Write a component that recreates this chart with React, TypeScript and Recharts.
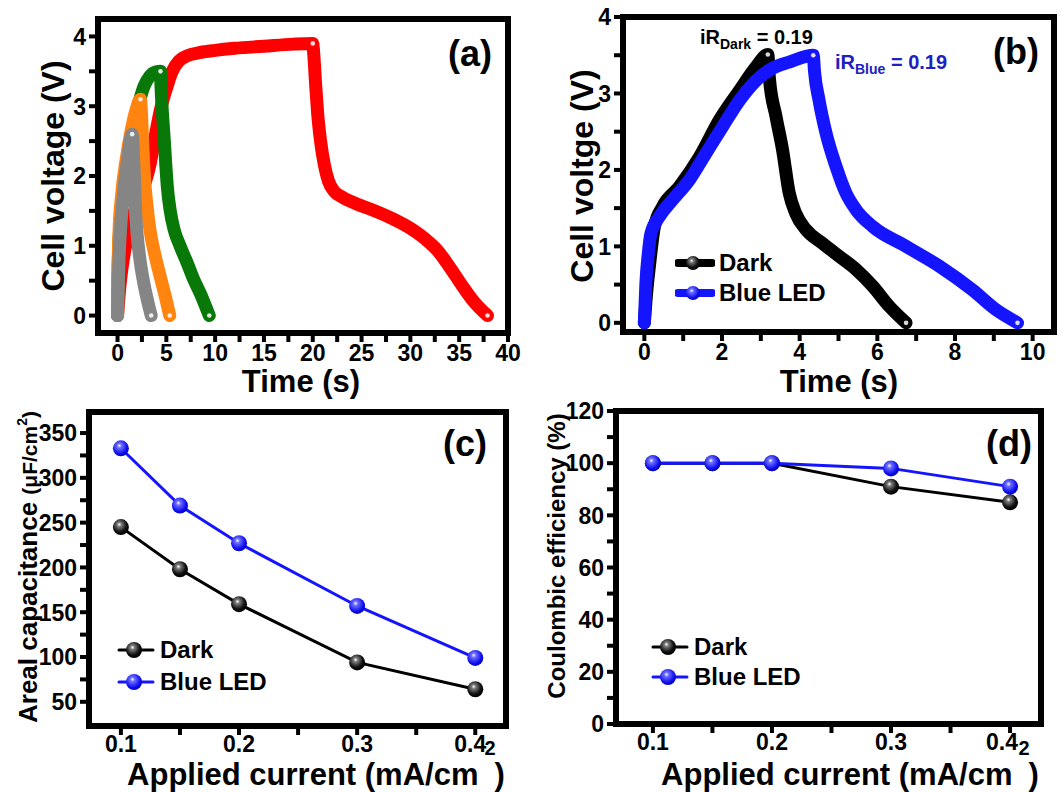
import React from 'react';
import { LineChart, Line, XAxis, YAxis, ReferenceArea, Label, Legend } from 'recharts';

const FONT = '"Liberation Sans", Arial, Helvetica, sans-serif';
const BLUE = '#1414ff';

// (a) GCD curves at several current densities: [time (s), cell voltage (V)]
const redGcd = [
  [0, 0], [0.3, 0.5], [0.7, 0.9], [1.3, 1.3], [2.0, 1.6], [2.7, 1.85], [3.3, 2.15], [3.9, 2.6], [4.4, 2.95],
  [5.0, 3.25], [5.6, 3.5], [6.3, 3.65], [7.1, 3.72], [8.5, 3.77], [10, 3.8], [12, 3.83], [15, 3.86], [18, 3.89],
  [20, 3.9], [20.1, 3.75], [20.3, 3.3], [20.5, 2.9], [20.8, 2.5], [21.2, 2.15], [21.6, 1.93], [22.2, 1.78],
  [23, 1.7], [24.5, 1.6], [26, 1.52], [28, 1.4], [30, 1.25], [31.5, 1.1], [32.8, 0.93], [34, 0.7], [35.2, 0.45],
  [36.5, 0.2], [37.9, 0],
];
const greenGcd = [
  [0, 0], [0.05, 0.6], [0.2, 1.2], [0.5, 1.7], [1.0, 2.25], [1.6, 2.7], [2.2, 3.05], [2.7, 3.28], [3.3, 3.43],
  [3.9, 3.49], [4.4, 3.5], [4.45, 3.3], [4.6, 2.9], [4.75, 2.6], [4.95, 2.15], [5.1, 1.85], [5.4, 1.5],
  [5.8, 1.23], [6.4, 1.0], [7.15, 0.75], [7.8, 0.52], [8.5, 0.31], [9.0, 0.14], [9.4, 0],
];
const orangeGcd = [
  [0, 0], [0.05, 0.6], [0.15, 1.2], [0.4, 1.7], [0.9, 2.25], [1.4, 2.65], [1.9, 2.95], [2.35, 3.1], [2.45, 2.9],
  [2.6, 2.4], [2.8, 1.9], [3.0, 1.6], [3.35, 1.2], [3.75, 0.92], [4.3, 0.6], [4.85, 0.3], [5.35, 0],
];
const grayGcd = [
  [0, 0], [0.1, 0.6], [0.25, 1.1], [0.55, 1.65], [1.0, 2.2], [1.5, 2.6], [1.6, 2.4], [1.75, 1.9], [1.85, 1.5],
  [2.0, 1.18], [2.3, 0.8], [2.7, 0.46], [3.1, 0.2], [3.45, 0],
];

// (b) dark vs blue LED
const darkGcd = [
  [0, 0], [0.06, 0.4], [0.13, 0.74], [0.26, 1.26], [0.47, 1.52], [0.9, 1.78], [1.42, 2.17], [1.93, 2.65],
  [2.45, 3.04], [2.88, 3.35], [3.18, 3.51], [3.22, 3.2], [3.39, 2.7], [3.56, 2.26], [3.73, 1.7], [3.9, 1.43],
  [4.16, 1.22], [4.59, 1.04], [5.02, 0.87], [5.45, 0.7], [5.88, 0.48], [6.3, 0.22], [6.74, 0],
];
const blueGcd = [
  [0, 0], [0.04, 0.52], [0.1, 0.9], [0.17, 1.17], [0.39, 1.39], [0.73, 1.61], [1.16, 1.87], [1.59, 2.22],
  [2.02, 2.57], [2.45, 2.91], [2.88, 3.17], [3.3, 3.33], [3.73, 3.41], [4.35, 3.5], [4.38, 3.3], [4.5, 2.91],
  [4.68, 2.48], [4.94, 2.04], [5.19, 1.7], [5.45, 1.48], [5.88, 1.26], [6.74, 1.0], [7.6, 0.74], [8.45, 0.43],
  [9.06, 0.17], [9.61, 0],
];

// (c), (d)
const currents = [0.1, 0.15, 0.2, 0.3, 0.4];
const capDark = [245, 198, 159, 94, 64];
const capBlue = [333, 269, 227, 157, 99];
const ceDark = [100, 100, 100, 91, 85];
const ceBlue = [100, 100, 100, 98, 91];
const seriesNames = ['Dark', 'Blue LED'];

// ticks
const aXTicks = [0, 2.5, 5, 7.5, 10, 12.5, 15, 17.5, 20, 22.5, 25, 27.5, 30, 32.5, 35, 37.5, 40];
const aXMajor = [0, 5, 10, 15, 20, 25, 30, 35, 40];
const vTicks = [0, 0.5, 1, 1.5, 2, 2.5, 3, 3.5, 4];
const vMajor = [0, 1, 2, 3, 4];
const bXTicks = [0, 1, 2, 3, 4, 5, 6, 7, 8, 9, 10];
const bXMajor = [0, 2, 4, 6, 8, 10];
const iTicks = [0.1, 0.15, 0.2, 0.25, 0.3, 0.35, 0.4];
const iMajor = [0.1, 0.2, 0.3, 0.4];
const cYTicks = [50, 75, 100, 125, 150, 175, 200, 225, 250, 275, 300, 325, 350];
const cYMajor = [50, 100, 150, 200, 250, 300, 350];
const dYTicks = [0, 10, 20, 30, 40, 50, 60, 70, 80, 90, 100, 110, 120];
const dYMajor = [0, 20, 40, 60, 80, 100, 120];

const pts = (a: number[][]) => a.map(([x, y]) => ({ x, y }));
const zip = (xs: number[], ys: number[]) => xs.map((x, i) => ({ x, y: ys[i] }));
const isMajor = (list: number[], v: number) => list.some((m) => Math.abs(m - v) < 1e-9);

// lastShift nudges the last label left, as in the original where it makes room for the superscript
const xTick = (major: number[], fmt: (v: number) => string, lastShift: number) => (p: any) => {
  const v = p.payload.value;
  if (!isMajor(major, v)) return <g />;
  const dx = Math.abs(v - major[major.length - 1]) < 1e-9 ? -lastShift : 0;
  return (
    <text x={p.x + dx} y={p.y} dy="0.71em" textAnchor="middle" fontFamily={FONT} fontWeight="bold" fontSize={23} fill="#000">
      {fmt(v)}
    </text>
  );
};
const yTick = (major: number[]) => (p: any) => {
  const v = p.payload.value;
  if (!isMajor(major, v)) return <g />;
  return (
    <text x={p.x} y={p.y} dy="0.36em" textAnchor="end" fontFamily={FONT} fontWeight="bold" fontSize={23} fill="#000">
      {String(v)}
    </text>
  );
};

// white highlight on the last point and on the top of charge
const endDots = (data: number[][]) => {
  let peak = 0;
  data.forEach((d, i) => { if (d[1] > data[peak][1]) peak = i; });
  return (p: any) => {
    if (p.index !== peak && p.index !== data.length - 1) return <g key={`n${p.index}`} />;
    return <circle key={`e${p.index}`} cx={p.cx} cy={p.cy} r={2.3} fill="#fff" opacity={0.85} />;
  };
};
const sphere = (fill: string) => (p: any) => (
  <circle key={`s${p.index}`} cx={p.cx} cy={p.cy} r={8} fill={fill} />
);

type Box = { l: number; r: number; t: number; b: number };
type LegendPos = { x: number; y: number; rowH: number; thick: boolean };

const PL = 110, PT = 20, PR = 20, PB = 80;

interface PanelProps {
  box: Box;
  xDomain: [number, number];
  yDomain: [number, number];
  xTicks: number[];
  xMajor: number[];
  yTicks: number[];
  yMajor: number[];
  xFmt: (v: number) => string;
  xMargin?: number;
  lastShift?: number;
  overlay: React.ReactNode;
  legend?: LegendPos;
  children: React.ReactNode;
}

const Panel = ({
  box, xDomain, yDomain, xTicks, xMajor, yTicks, yMajor, xFmt, xMargin = 3, lastShift = 0, overlay, legend, children,
}: PanelProps) => {
  const ox = box.l - PL;
  const oy = box.t - PT;
  const w = box.r - box.l + PL + PR;
  const h = box.b - box.t + PT + PB;
  return (
    <div style={{ position: 'absolute', left: ox, top: oy, width: w, height: h }}>
      <LineChart width={w} height={h} margin={{ top: PT, right: PR, bottom: 0, left: 0 }}>
        <XAxis
          type="number" dataKey="x" domain={xDomain} ticks={xTicks} interval={0} allowDataOverflow
          height={PB} axisLine={false} tickSize={9} tickMargin={xMargin}
          tickLine={{ stroke: '#000', strokeWidth: 4 }} tick={xTick(xMajor, xFmt, lastShift)}
        >
          <Label content={() => <g transform={`translate(${-ox},${-oy})`} fontFamily={FONT} fontWeight="bold" fill="#000">{overlay}</g>} />
        </XAxis>
        <YAxis
          type="number" domain={yDomain} ticks={yTicks} interval={0} allowDataOverflow
          width={PL} axisLine={false} tickSize={9} tickMargin={3}
          tickLine={{ stroke: '#000', strokeWidth: 4 }} tick={yTick(yMajor)}
        />
        <ReferenceArea
          x1={xDomain[0]} x2={xDomain[1]} y1={yDomain[0]} y2={yDomain[1]}
          fill="none" stroke="#000" strokeWidth={6} ifOverflow="visible"
        />
        {children}
        {legend && (
          <Legend
            layout="vertical" align="center" verticalAlign="middle"
            wrapperStyle={{ left: legend.x - ox, top: legend.y - oy, width: 180, height: legend.rowH * 2 }}
            content={(props: any) => {
              const items = [...(props.payload || [])].sort(
                (a: any, b: any) => seriesNames.indexOf(a.value) - seriesNames.indexOf(b.value),
              );
              return (
                <div style={{ fontFamily: FONT, fontWeight: 'bold', fontSize: 24, color: '#000' }}>
                  {items.map((e: any) => (
                    <div key={e.value} style={{ display: 'flex', alignItems: 'center', height: legend.rowH }}>
                      <svg width={40} height={legend.rowH} style={{ display: 'block' }}>
                        <line x1={3} x2={37} y1={legend.rowH / 2} y2={legend.rowH / 2} stroke={e.color}
                          strokeWidth={legend.thick ? 8 : 3} strokeLinecap="round" />
                        <circle cx={18} cy={legend.rowH / 2} r={legend.thick ? 7 : 8}
                          fill={e.color === BLUE ? 'url(#sphBlue)' : 'url(#sphBlack)'} />
                      </svg>
                      <span style={{ marginLeft: 4, lineHeight: 1 }}>{e.value}</span>
                    </div>
                  ))}
                </div>
              );
            }}
          />
        )}
      </LineChart>
    </div>
  );
};

const gcdLine = (data: number[][], color: string, name: string) => (
  <Line
    key={name} name={name} data={pts(data)} dataKey="y" type="monotone" stroke={color} strokeWidth={13}
    strokeLinecap="round" strokeLinejoin="round" dot={endDots(data)} activeDot={false} isAnimationActive={false}
  />
);
const ptLine = (ys: number[], color: string, grad: string, name: string) => (
  <Line
    key={name} name={name} data={zip(currents, ys)} dataKey="y" type="linear" stroke={color} strokeWidth={3}
    dot={sphere(grad)} activeDot={false} isAnimationActive={false}
  />
);

const currentTitle = (x: number) => (
  <text x={x} y={785} textAnchor="middle" fontSize={31}>
    Applied current (mA/cm<tspan fontSize={20} dx={6} dy={-30}>2</tspan><tspan dx={-1} dy={30}>)</tspan>
  </text>
);

const App = () => (
  <div style={{ position: 'relative', width: 1062, height: 792, background: '#fff', overflow: 'hidden' }}>
    <style>{'body{margin:0;background:#fff}'}</style>
    <svg width={0} height={0} style={{ position: 'absolute' }}>
      <defs>
        <radialGradient id="sphBlack" cx="0.42" cy="0.38" r="0.62" fx="0.4" fy="0.33">
          <stop offset="0" stopColor="#ffffff" />
          <stop offset="0.22" stopColor="#7a7a7a" />
          <stop offset="0.7" stopColor="#111111" />
          <stop offset="1" stopColor="#000000" />
        </radialGradient>
        <radialGradient id="sphBlue" cx="0.42" cy="0.38" r="0.62" fx="0.4" fy="0.33">
          <stop offset="0" stopColor="#ffffff" />
          <stop offset="0.22" stopColor="#7070ff" />
          <stop offset="0.75" stopColor="#1010f0" />
          <stop offset="1" stopColor="#0000c0" />
        </radialGradient>
      </defs>
    </svg>

    <Panel
      box={{ l: 98, r: 508, t: 19, b: 333 }} xDomain={[-2, 40]} yDomain={[-0.25, 4.25]}
      xTicks={aXTicks} xMajor={aXMajor} yTicks={vTicks} yMajor={vMajor} xFmt={(v) => String(v)}
      overlay={
        <>
          <text x={470} y={66} textAnchor="middle" fontSize={36}>(a)</text>
          <text transform="translate(64,176) rotate(-90)" textAnchor="middle" fontSize={32}>Cell voltage (V)</text>
          <text x={301} y={392} textAnchor="middle" fontSize={31}>Time (s)</text>
        </>
      }
    >
      {gcdLine(redGcd, '#ff0000', '0.1')}
      {gcdLine(greenGcd, '#087808', '0.2')}
      {gcdLine(orangeGcd, '#ff8410', '0.3')}
      {gcdLine(grayGcd, '#858585', '0.4')}
    </Panel>

    <Panel
      box={{ l: 623, r: 1054, t: 17, b: 332 }} xDomain={[-0.55, 10.55]} yDomain={[-0.12, 4]}
      xTicks={bXTicks} xMajor={bXMajor} yTicks={vTicks} yMajor={vMajor} xFmt={(v) => String(v)}
      legend={{ x: 675, y: 248, rowH: 30, thick: true }}
      overlay={
        <>
          <text x={1016} y={64} textAnchor="middle" fontSize={36}>(b)</text>
          <text transform="translate(593,176) rotate(-90)" textAnchor="middle" fontSize={32}>Cell voltge (V)</text>
          <text x={839} y={392} textAnchor="middle" fontSize={31}>Time (s)</text>
          <text x={700} y={44} fontSize={20}>
            iR<tspan fontSize={14} dy={5}>Dark</tspan><tspan dy={-5}> = 0.19</tspan>
          </text>
          <text x={835} y={69} fontSize={20} fill="#2020c0">
            iR<tspan fontSize={14} dy={5}>Blue</tspan><tspan dy={-5}> = 0.19</tspan>
          </text>
        </>
      }
    >
      {gcdLine(darkGcd, '#000000', 'Dark')}
      {gcdLine(blueGcd, BLUE, 'Blue LED')}
    </Panel>

    <Panel
      box={{ l: 89, r: 506, t: 412, b: 726 }} xDomain={[0.073, 0.426]} yDomain={[23, 373.5]}
      xTicks={iTicks} xMajor={iMajor} yTicks={cYTicks} yMajor={cYMajor} xFmt={(v) => v.toFixed(1)}
      xMargin={1} lastShift={5}
      legend={{ x: 116, y: 634, rowH: 32, thick: false }}
      overlay={
        <>
          <text x={465} y={456} textAnchor="middle" fontSize={36}>(c)</text>
          <text transform="translate(37,567) rotate(-90)" textAnchor="middle" fontSize={26}>
            Areal capacitance <tspan fontSize={21}>(μF/cm</tspan><tspan fontSize={14} dy={-10}>2</tspan><tspan fontSize={21} dy={10}>)</tspan>
          </text>
          {currentTitle(316)}
        </>
      }
    >
      {ptLine(capDark, '#000000', 'url(#sphBlack)', 'Dark')}
      {ptLine(capBlue, BLUE, 'url(#sphBlue)', 'Blue LED')}
    </Panel>

    <Panel
      box={{ l: 616, r: 1041, t: 411, b: 724 }} xDomain={[0.069, 0.426]} yDomain={[0, 120]}
      xTicks={iTicks} xMajor={iMajor} yTicks={dYTicks} yMajor={dYMajor} xFmt={(v) => v.toFixed(1)}
      xMargin={1} lastShift={8}
      legend={{ x: 650, y: 632, rowH: 30, thick: false }}
      overlay={
        <>
          <text x={1009} y={456} textAnchor="middle" fontSize={36}>(d)</text>
          <text transform="translate(565,556) rotate(-90)" textAnchor="middle" fontSize={24}>Coulombic efficiency (%)</text>
          {currentTitle(850)}
        </>
      }
    >
      {ptLine(ceDark, '#000000', 'url(#sphBlack)', 'Dark')}
      {ptLine(ceBlue, BLUE, 'url(#sphBlue)', 'Blue LED')}
    </Panel>
  </div>
);

export default App;
